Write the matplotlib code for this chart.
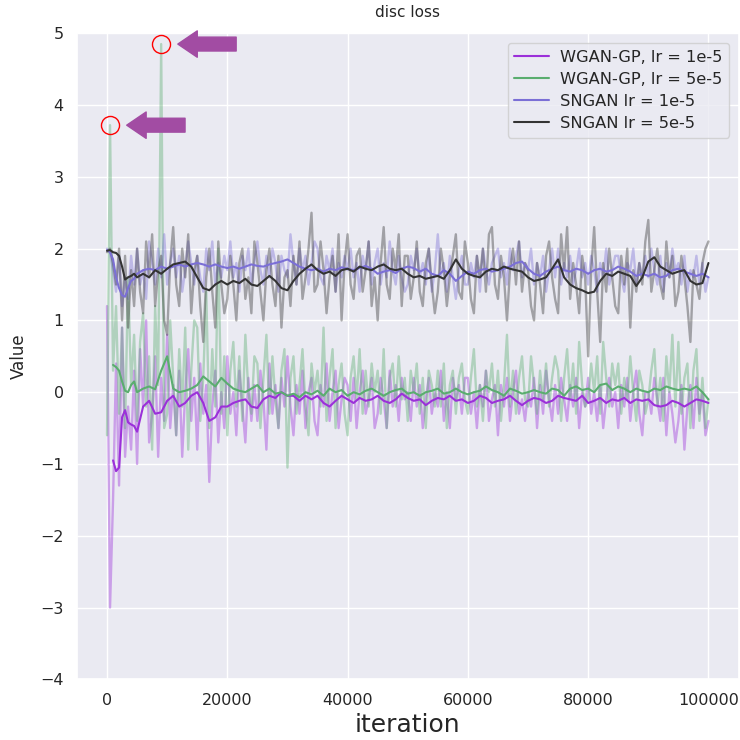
import numpy as np
import matplotlib
matplotlib.use('Agg')
import matplotlib.pyplot as plt
import seaborn as sns

sns.set_theme(style='darkgrid')

# raw losses are logged every 500 iterations
steps = np.arange(0, 100001, 500)

wgan_1e5_raw = [
    1.2, -3.0, -1.5, 0.4, -1.3, 0.9, -0.9, -0.2, -0.8, 0.3,
    -1.0, 0.6, -0.2, 1.0, -0.7, -0.3, 0.5, -0.9, 0.2, -0.4,
    0.8, -0.5, 0.1, -0.6, 0.3, -0.9, 0.0, 0.6, -0.4, 0.2,
    -0.8, 0.4, -0.3, 0.1, -1.25, -0.2, 0.3, -0.7, 0.0, -0.5,
    0.5, -0.3, 0.0, -0.6, 0.3, -0.2, -0.7, 0.2, -0.4, 0.1,
    -0.4, 0.3, -0.1, -0.8, 0.4, -0.3, 0.1, -0.5, 0.2, -0.2,
    0.5, -0.2, -0.6, 0.1, -0.3, 0.3, -0.5, 0.0, 0.2, -0.4,
    -0.6, 0.1, -0.2, 0.4, -0.4, 0.0, 0.3, -0.5, -0.1, 0.2,
    0.1, -0.4, 0.2, -0.5, 0.0, 0.3, -0.3, -0.1, 0.2, -0.5,
    -0.3, 0.2, -0.1, -0.5, 0.3, -0.2, 0.1, -0.4, 0.2, -0.1,
    0.0, -0.4, 0.2, -0.2, 0.1, -0.5, -0.1, 0.2, -0.3, 0.0,
    -0.2, 0.3, -0.4, 0.0, -0.5, 0.2, -0.1, 0.1, -0.3, 0.2,
    0.2, -0.3, 0.0, -0.5, 0.1, -0.2, 0.3, -0.4, -0.1, 0.1,
    -0.6, 0.1, -0.2, 0.2, -0.4, 0.0, 0.3, -0.3, -0.1, -0.4,
    0.0, -0.2, 0.2, -0.5, 0.1, -0.3, 0.3, -0.1, -0.4, 0.1,
    -0.3, 0.2, -0.1, -0.4, 0.1, -0.2, 0.2, -0.5, 0.0, -0.2,
    0.2, -0.3, 0.0, -0.4, 0.1, -0.5, -0.1, 0.2, -0.2, 0.0,
    -0.5, 0.1, -0.2, 0.2, -0.4, 0.0, 0.3, -0.3, -0.6, 0.0,
    0.0, -0.3, 0.2, -0.1, -0.4, 0.2, -0.6, 0.0, -0.3, -0.7,
    -0.4, 0.1, -0.8, -0.2, 0.1, -0.5, 0.2, -0.3, 0.0, -0.6,
    -0.4,
]
wgan_5e5_raw = [
    -0.6, 3.72, 0.3, 1.2, -0.3, 0.9, -0.5, 1.6, 0.1, 0.8,
    -0.4, 0.7, 1.1, -0.2, 0.5, -0.8, 1.2, 0.1, 4.85, -0.5,
    -0.3, 1.0, 0.2, -0.6, 0.6, -0.2, 0.9, -0.8, 0.3, 1.0,
    0.9, -0.4, 0.2, 1.4, -0.5, 0.6, -0.2, 2.0, -0.3, 0.5,
    -0.6, 0.3, 0.7, -0.2, 0.5, -0.4, 0.8, 0.0, -0.3, 0.5,
    0.4, -0.5, 0.2, 0.8, -0.3, 0.5, -0.1, -0.5, 0.3, 0.6,
    -1.05, 0.2, 0.5, -0.3, 0.1, 0.6, -0.2, -0.6, 0.4, 0.0,
    0.3, -0.2, 0.9, -0.4, 0.2, 0.6, -0.5, 0.1, 0.4, -0.3,
    -0.6, 0.2, 0.5, -0.1, 0.6, -0.3, 0.3, -0.2, 0.4, 0.0,
    0.3, -0.3, 0.6, -0.5, 0.2, 0.4, -0.2, 0.5, -0.1, 0.2,
    -0.4, 0.3, 0.0, 0.4, -0.3, 0.2, -0.5, 0.3, 0.1, -0.2,
    0.3, -0.2, 0.4, -0.5, 0.1, 0.3, -0.3, 0.2, 0.4, -0.1,
    -0.3, 0.2, 0.6, -0.2, 0.1, -0.4, 0.3, 0.0, 0.4, -0.2,
    0.3, -0.4, 0.1, 0.8, -0.2, 0.3, -0.3, 0.2, 0.5, -0.1,
    -0.2, 0.5, 0.1, -0.3, 0.3, -0.1, 0.4, -0.2, 0.2, 0.5,
    0.3, -0.4, 0.2, 0.6, -0.1, 0.4, -0.3, 0.7, 0.1, -0.2,
    -0.1, 0.4, 0.0, 0.5, -0.3, 0.7, 0.2, -0.2, 0.4, 0.1,
    0.4, -0.3, 0.2, -0.1, 0.5, 0.0, -0.4, 0.3, 0.1, -0.3,
    -0.1, 0.3, 0.6, -0.2, 0.2, -0.4, 0.5, 0.0, 0.8, -0.2,
    0.7, -0.3, 0.2, 0.4, -0.5, 0.3, 0.6, -0.4, 0.2, -0.5,
    -0.1,
]
sngan_1e5_raw = [
    2.0, 1.95, 1.7, 1.4, 1.9, 1.2, 1.6, 1.3, 1.9, 1.5,
    2.0, 1.5, 1.7, 1.3, 2.1, 1.8, 1.5, 2.0, 1.6, 2.2,
    1.5, 1.8, 2.0, 1.6, 1.9, 1.4, 1.7, 2.1, 1.8, 1.5,
    1.9, 1.6, 1.4, 2.0, 1.7, 2.1, 1.5, 1.8, 1.6, 1.9,
    1.7, 2.1, 1.6, 1.8, 1.4, 1.9, 1.7, 2.0, 1.5, 1.8,
    2.1, 1.7, 1.5, 1.9, 1.6, 2.0, 1.8, 1.4, 1.9, 1.7,
    1.6, 2.2, 1.8, 1.5, 2.0, 1.7, 1.9, 1.5, 1.8, 2.1,
    2.0, 1.6, 1.5, 1.9, 1.7, 2.0, 1.4, 1.8, 1.6, 1.9,
    1.7, 2.0, 1.6, 1.8, 1.4, 1.9, 1.7, 2.1, 1.5, 1.8,
    2.0, 1.5, 1.8, 1.6, 2.1, 1.7, 1.5, 1.9, 1.6, 1.4,
    1.5, 1.9, 1.7, 2.0, 1.6, 1.8, 1.5, 2.0, 1.4, 1.7,
    2.2, 1.6, 1.8, 1.4, 1.9, 1.6, 1.3, 1.7, 1.9, 1.5,
    1.5, 1.8, 1.6, 1.9, 1.4, 2.0, 1.7, 1.5, 1.8, 1.9,
    2.0, 1.6, 1.8, 1.5, 2.0, 1.7, 1.9, 2.1, 1.6, 1.8,
    1.7, 2.0, 1.5, 1.8, 1.6, 1.9, 1.4, 1.7, 2.0, 1.6,
    2.0, 1.5, 1.8, 1.6, 1.9, 1.5, 1.7, 2.0, 1.6, 1.8,
    1.5, 1.9, 1.7, 1.4, 1.8, 1.6, 2.0, 1.5, 1.7, 1.9,
    1.9, 1.6, 1.4, 1.8, 1.7, 2.0, 1.5, 1.8, 1.6, 1.9,
    1.6, 2.0, 1.7, 1.5, 1.9, 1.4, 1.8, 1.6, 2.0, 1.7,
    1.8, 1.5, 1.9, 1.4, 1.7, 1.6, 1.9, 1.5, 1.8, 1.4,
    1.6,
]
sngan_5e5_raw = [
    1.95, 2.0, 1.8, 1.5, 2.0, 1.0, 1.9, 0.9, 1.7, 1.2,
    2.0, 1.4, 1.1, 2.1, 1.6, 2.2, 1.2, 1.7, 1.9, 1.0,
    0.8, 1.8, 2.3, 1.5, 1.2, 2.0, 1.6, 2.2, 1.1, 1.7,
    1.9, 1.2, 0.7, 1.6, 2.0, 1.4, 0.9, 2.1, 1.5, 1.1,
    1.3, 1.9, 1.5, 1.0, 1.8, 2.0, 1.3, 1.6, 1.1, 2.1,
    1.8, 1.4, 1.0, 1.7, 2.0, 1.5, 1.2, 1.9, 0.9, 1.6,
    1.7, 1.2, 1.9, 1.5, 2.1, 1.3, 1.6, 2.0, 2.5, 1.4,
    1.5, 2.1, 1.7, 1.1, 1.6, 1.9, 1.4, 2.2, 1.0, 1.8,
    2.2, 1.5, 1.3, 1.9, 2.0, 1.4, 1.7, 2.1, 1.2, 1.6,
    1.0, 1.8, 2.3, 1.5, 1.3, 2.0, 1.7, 2.2, 1.2, 1.9,
    1.9, 1.3, 1.6, 2.1, 1.4, 1.2, 1.8, 2.0, 1.5, 1.1,
    1.4, 2.0, 1.7, 1.2, 1.6, 1.9, 2.2, 1.4, 1.3, 2.1,
    1.8, 1.3, 1.1, 1.9, 1.6, 2.0, 1.4, 2.2, 2.3, 1.5,
    1.3, 1.9, 1.6, 1.0, 1.7, 2.0, 1.5, 2.1, 1.4, 1.8,
    1.7, 1.2, 1.0, 1.8, 1.5, 1.1, 1.9, 2.1, 1.6, 1.3,
    1.1, 2.2, 1.7, 2.3, 1.3, 1.8, 1.5, 1.1, 1.9, 1.6,
    0.5, 1.7, 2.3, 1.4, 0.7, 1.8, 1.4, 2.0, 1.6, 1.2,
    1.1, 1.9, 1.5, 2.0, 0.9, 1.7, 1.4, 1.8, 1.5, 2.1,
    2.4, 1.4, 1.7, 2.0, 1.5, 1.3, 2.1, 1.6, 1.9, 1.2,
    1.4, 1.9, 1.6, 1.2, 0.7, 1.7, 1.5, 1.3, 1.8, 2.0,
    2.1,
]

# smoothed curves, dense at the start then every 1000 iterations
smooth_steps = np.concatenate([np.arange(0, 5001, 500), np.arange(6000, 100001, 1000)])
nan = np.nan
wgan_1e5_smooth = [
    nan, nan, -0.95, -1.1, -1.05, -0.35, -0.25, -0.42, -0.45, -0.47, -0.55,
    -0.2, -0.12, -0.3, -0.28, -0.12, -0.05, -0.2, -0.15, -0.05, 0.0,
    -0.15, -0.4, -0.35, -0.2, -0.2, -0.15, -0.12, -0.1, -0.2, -0.22,
    -0.1, -0.05, -0.08, 0.0, -0.05, -0.05, -0.12, -0.05, -0.1, -0.05,
    -0.15, -0.2, -0.12, -0.05, -0.1, -0.15, -0.08, -0.12, -0.1, -0.05,
    -0.12, -0.15, -0.1, -0.02, -0.08, -0.12, -0.1, -0.18, -0.12, -0.08,
    -0.1, -0.05, -0.12, -0.1, -0.15, -0.12, -0.05, -0.08, -0.15, -0.12,
    -0.1, -0.05, -0.12, -0.18, -0.12, -0.08, -0.1, -0.15, -0.12, -0.05,
    -0.08, -0.1, -0.12, -0.05, -0.15, -0.12, -0.08, -0.15, -0.1, -0.12,
    -0.08, -0.15, -0.1, -0.12, -0.1, -0.18, -0.2, -0.18, -0.12, -0.15,
    -0.2, -0.15, -0.1, -0.12, -0.15,
]
wgan_5e5_smooth = [
    nan, nan, 0.38, 0.35, 0.3, 0.15, 0.02, 0.0, 0.1, 0.15, 0.0,
    0.05, 0.08, 0.04, 0.3, 0.5, 0.05, 0.0, 0.02, 0.05, 0.1,
    0.22, 0.15, 0.08, 0.2, 0.12, 0.05, 0.02, 0.0, 0.05, 0.1,
    0.0, 0.05, -0.02, 0.0, -0.05, -0.02, -0.07, 0.0, -0.03, 0.02,
    -0.05, 0.05, 0.0, 0.03, -0.05, 0.0, -0.03, 0.02, 0.05, 0.0,
    -0.05, 0.0, 0.03, 0.05, -0.02, 0.0, -0.05, 0.0, 0.02, 0.05,
    -0.02, 0.0, 0.05, 0.0, -0.03, 0.0, 0.02, 0.08, 0.03, 0.0,
    -0.05, 0.05, 0.02, -0.02, 0.0, 0.03, 0.0, -0.02, 0.05, 0.03,
    -0.05, 0.05, 0.08, 0.03, 0.05, 0.0, 0.1, 0.12, 0.03, 0.08,
    0.05, 0.0, 0.05, 0.02, 0.0, 0.05, 0.03, 0.08, 0.05, 0.03,
    0.05, 0.03, 0.08, 0.0, -0.1,
]
sngan_1e5_smooth = [
    1.98, 1.95, 1.85, 1.6, 1.45, 1.35, 1.33, 1.45, 1.55, 1.58, 1.65,
    1.7, 1.72, 1.7, 1.75, 1.72, 1.75, 1.78, 1.75, 1.78, 1.8,
    1.78, 1.75, 1.78, 1.75, 1.73, 1.75, 1.72, 1.75, 1.78, 1.76,
    1.75, 1.78, 1.8, 1.82, 1.85, 1.8, 1.75, 1.72, 1.7, 1.72,
    1.68, 1.72, 1.7, 1.74, 1.72, 1.7, 1.73, 1.76, 1.72, 1.65,
    1.68, 1.7, 1.66, 1.72, 1.75, 1.73, 1.68, 1.72, 1.65, 1.62,
    1.7, 1.65, 1.55, 1.62, 1.68, 1.65, 1.7, 1.72, 1.68, 1.7,
    1.72, 1.75, 1.8, 1.82, 1.72, 1.65, 1.62, 1.68, 1.72, 1.75,
    1.7, 1.68, 1.72, 1.7, 1.65, 1.7, 1.72, 1.68, 1.7, 1.75,
    1.72, 1.68, 1.62, 1.65, 1.62, 1.65, 1.6, 1.62, 1.7, 1.72,
    1.68, 1.65, 1.62, 1.65, 1.6,
]
sngan_5e5_smooth = [
    1.97, 1.98, 1.95, 1.94, 1.9, 1.75, 1.57, 1.6, 1.62, 1.65, 1.6,
    1.65, 1.6, 1.7, 1.65, 1.72, 1.78, 1.8, 1.82, 1.75, 1.6,
    1.45, 1.42, 1.5, 1.55, 1.5, 1.55, 1.52, 1.58, 1.5, 1.48,
    1.55, 1.62, 1.55, 1.45, 1.42, 1.55, 1.65, 1.72, 1.78, 1.7,
    1.65, 1.68, 1.62, 1.7, 1.72, 1.68, 1.75, 1.72, 1.7, 1.75,
    1.78, 1.72, 1.7, 1.72, 1.65, 1.6, 1.62, 1.58, 1.6, 1.62,
    1.58, 1.7, 1.85, 1.72, 1.65, 1.62, 1.6, 1.68, 1.72, 1.7,
    1.75, 1.72, 1.7, 1.68, 1.6, 1.55, 1.57, 1.6, 1.72, 1.85,
    1.6, 1.5, 1.45, 1.42, 1.38, 1.4, 1.55, 1.65, 1.62, 1.68,
    1.65, 1.62, 1.48, 1.6, 1.82, 1.88, 1.75, 1.7, 1.65, 1.68,
    1.7, 1.55, 1.5, 1.52, 1.8,
]

labels = ['WGAN-GP, lr = 1e-5', 'WGAN-GP, lr = 5e-5', 'SNGAN lr = 1e-5', 'SNGAN lr = 5e-5']
colors = ['#9b30d9', '#5aad6f', '#7b6fd6', '#333333']
raw = [wgan_1e5_raw, wgan_5e5_raw, sngan_1e5_raw, sngan_5e5_raw]
smooth = [wgan_1e5_smooth, wgan_5e5_smooth, sngan_1e5_smooth, sngan_5e5_smooth]

fig = plt.figure(figsize=(7.4, 7.4), dpi=100)
ax = fig.add_axes([0.104, 0.082, 0.894, 0.873])

for r, c in zip(raw, colors):
    ax.plot(steps, r, color=c, alpha=0.4, linewidth=1.7)
for s, c, lab in zip(smooth, colors, labels):
    ax.plot(smooth_steps, s, color=c, linewidth=1.5, label=lab)

# circle + arrow on the two big spikes of WGAN-GP lr=5e-5
for i in np.where(np.array(wgan_5e5_raw) > 3)[0]:
    xs, ys = steps[i], wgan_5e5_raw[i]
    ax.plot(xs, ys, 'o', ms=13, mfc='none', mec='red', mew=1.0)
    ax.annotate('', xy=(xs, ys), xytext=(54, 0), textcoords='offset points',
                arrowprops=dict(arrowstyle='simple,head_length=1.4,head_width=1.9,tail_width=1.0',
                                color='#a24ca3', shrinkA=0, shrinkB=12, mutation_scale=10))

ax.set_ylim(-4, 5)
ax.set_yticks(range(-4, 6))
ax.tick_params(labelsize=11.5)
ax.set_title('disc loss', fontsize=11, pad=12)
ax.set_ylabel('Value', fontsize=12, labelpad=9)
ax.set_xlabel('iteration', fontsize=18)
ax.legend(loc='upper right', fontsize=11.7, labelspacing=0.44, handlelength=2.1,
          handletextpad=0.7, borderaxespad=0.6)

plt.savefig('out.png', dpi=100)
